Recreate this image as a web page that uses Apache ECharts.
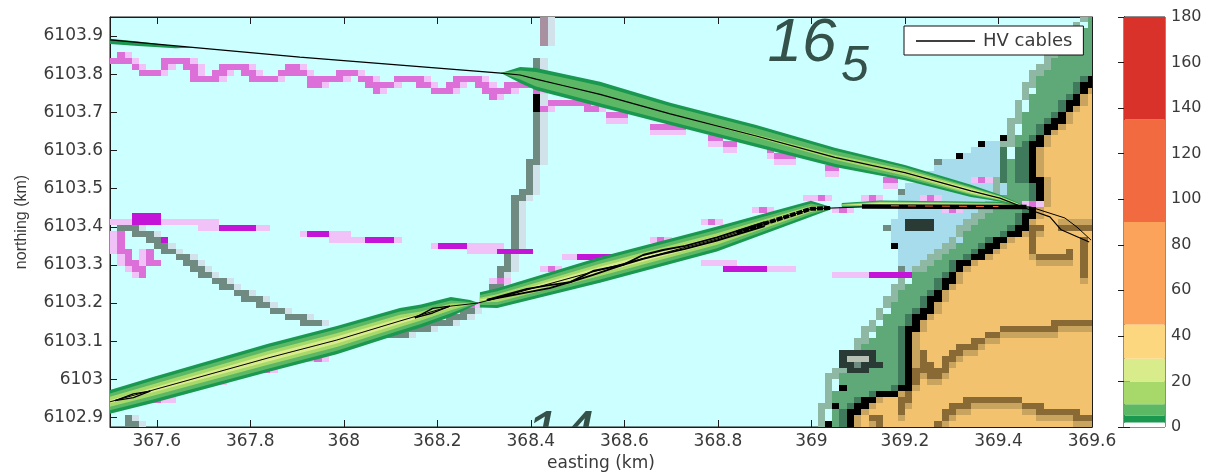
<!DOCTYPE html>
<html><head><meta charset="utf-8">
<style>html,body{margin:0;padding:0;background:#fff}#main{width:1214px;height:472px;filter:blur(0.35px)}</style>
<script src="https://cdn.jsdelivr.net/npm/echarts@6/dist/echarts.min.js"></script>
</head><body><div id="main"></div>
<script>
// ---------- axes ----------
const xTicks=[367.6,367.8,368,368.2,368.4,368.6,368.8,369,369.2,369.4,369.6];
const yTicks=[6102.9,6103,6103.1,6103.2,6103.3,6103.4,6103.5,6103.6,6103.7,6103.8,6103.9];
const barTicks=[0,20,40,60,80,100,120,140,160,180];
const barLevels=[0,2,5,10,20,30,45,90,135,180];
const barColors=['#ffffff','#1a9850','#5cb865','#a6d96a','#d9ec8b','#fdd780','#fba35a','#f26a40','#d8322a'];
// ---------- base map (km) ----------
const landEdge=[[369.083,6102.875],[369.083,6102.912],[369.117,6102.946],[369.192,6102.972],[369.209,6102.990],[369.209,6103.122],[369.217,6103.137],[369.267,6103.216],[369.318,6103.295],[369.384,6103.347],[369.450,6103.399],[369.468,6103.436],[369.489,6103.470],[369.489,6103.504],[369.468,6103.557],[369.472,6103.609],[369.502,6103.646],[369.551,6103.714],[369.594,6103.777],[369.600,6103.793]];
const greenEdge=[[369.033,6102.875],[369.051,6102.964],[369.061,6103.011],[369.083,6103.032],[369.134,6103.122],[369.192,6103.226],[369.217,6103.268],[369.284,6103.321],[369.376,6103.436],[369.403,6103.457],[369.418,6103.515],[369.431,6103.601],[369.455,6103.698],[369.485,6103.785],[369.527,6103.845],[369.594,6103.942],[369.600,6103.950]];
const mapCorner=[[369.600,6102.875]];
const shallowEdge=[[369.262,6103.567],[369.314,6103.588],[369.356,6103.614],[369.391,6103.628],[369.421,6103.601],[369.414,6103.457],[369.369,6103.426],[369.326,6103.365],[369.256,6103.295],[369.220,6103.274],[369.194,6103.274],[369.185,6103.339],[369.168,6103.365],[369.168,6103.405],[369.190,6103.457],[369.190,6103.502],[369.254,6103.536]];
const contour1=[[369.267,6102.875],[369.284,6102.899],[369.318,6102.933],[369.344,6102.946],[369.436,6102.946],[369.468,6102.927],[369.534,6102.912],[369.600,6102.901]];
const contour2=[[369.267,6103.006],[369.292,6103.051],[369.326,6103.085],[369.410,6103.129],[369.510,6103.135],[369.519,6103.148],[369.600,6103.148]];
const contour3=[[369.485,6103.399],[369.472,6103.384],[369.472,6103.339],[369.485,6103.321],[369.542,6103.321],[369.551,6103.339]];
const contour4=[[369.530,6103.418],[369.600,6103.418]];
const contour5=[[369.585,6103.365],[369.585,6103.268]];
const contour6=[[369.234,6103.077],[369.234,6103.030],[369.215,6102.980],[369.192,6102.920]];
const contour7=[[369.258,6103.040],[369.258,6103.000]];
const contour8=[[369.134,6102.901],[369.149,6102.888]];
const coastDark=[[369.450,6103.523],[369.435,6103.601]];
const coastKnot=[[369.072,6103.072],[369.125,6103.072],[369.147,6103.036],[369.083,6103.024],[369.072,6103.051]];
const knotCore=[[369.087,6103.050],[369.110,6103.050]];
const blackBlob=[[369.209,6103.420],[369.258,6103.420],[369.258,6103.405],[369.209,6103.405]];
const blackDots=[[369.316,6103.588],[369.363,6103.614],[369.410,6103.628],[369.174,6103.347],[369.072,6102.972],[369.055,6102.927],[369.040,6102.885]];
const grayDots=[[369.267,6103.567],[369.196,6103.491],[369.162,6103.397],[369.192,6103.295]];
// ---------- chart lines (km) ----------
const mastUpper=[[368.435,6103.950],[368.435,6103.882]];
const mastLine=[[368.420,6103.837],[368.420,6103.680],[368.407,6103.672],[368.407,6103.575],[368.390,6103.557],[368.390,6103.489],[368.373,6103.470],[368.373,6103.410],[368.360,6103.392],[368.360,6103.339],[368.343,6103.331],[368.343,6103.295],[368.328,6103.287],[368.328,6103.242],[368.313,6103.234]];
const mastBlack=[[368.420,6103.750],[368.420,6103.710]];
const diagLine=[[367.526,6103.400],[367.568,6103.384],[367.609,6103.352],[367.658,6103.313],[367.714,6103.268],[367.789,6103.221],[367.861,6103.176],[367.911,6103.155],[367.951,6103.142]];
const diagLower=[[368.088,6103.111],[368.142,6103.129],[368.184,6103.142],[368.238,6103.163],[368.270,6103.182]];
const diagFoot=[[367.538,6102.901],[367.547,6102.875]];
const waveLine=[[367.500,6103.832],[367.521,6103.843],[367.543,6103.829],[367.568,6103.803],[367.601,6103.806],[367.624,6103.829],[367.658,6103.832],[367.690,6103.790],[367.718,6103.790],[367.757,6103.819],[367.780,6103.819],[367.821,6103.780],[367.853,6103.790],[367.896,6103.819],[367.936,6103.777],[367.977,6103.790],[368.018,6103.806],[368.075,6103.764],[368.125,6103.790],[368.157,6103.790],[368.189,6103.761],[368.223,6103.764],[368.264,6103.790],[368.287,6103.780],[368.321,6103.745],[368.353,6103.764],[368.381,6103.777],[368.411,6103.764]];
const waveTail=[[368.430,6103.714],[368.467,6103.732],[368.501,6103.732],[368.541,6103.706]];
const waveBits=[[368.574,6103.688,368.601,6103.693],[368.666,6103.667,368.730,6103.659],[368.790,6103.633,368.833,6103.614],[368.916,6103.593,368.959,6103.588],[369.029,6103.557,369.051,6103.557],[369.157,6103.523,369.179,6103.517]];
const paleRuns=[[367.641,367.731,6103.410],[367.690,367.838,6103.397],[367.919,368.000,6103.381],[367.977,368.116,6103.368],[368.197,368.336,6103.352],[368.270,368.336,6103.339],[368.475,368.591,6103.323],[368.770,368.826,6103.305],[368.890,368.959,6103.281],[369.051,369.125,6103.273],[367.500,367.628,6103.418]];
const magentaRuns=[[367.740,367.804,6103.397],[367.932,367.960,6103.381],[368.050,368.107,6103.368],[368.210,368.259,6103.352],[368.336,368.398,6103.336],[368.505,368.574,6103.323],[368.815,368.890,6103.292],[369.125,369.209,6103.266],[367.560,367.596,6103.423],[367.560,367.596,6103.407],[367.611,367.619,6103.371]];
const fanLines=[[[367.519,6103.365],[367.538,6103.321],[367.568,6103.279]],[[367.579,6103.339],[367.596,6103.305]],[[367.522,6103.385],[367.526,6103.355]]];
const pinkBits=[[368.328,6103.253],[368.279,6103.190],[367.943,6103.059],[367.838,6103.030],[367.731,6102.988],[367.609,6102.951],[368.443,6103.294],[368.674,6103.371],[368.790,6103.410],[368.899,6103.444],[369.008,6103.473],[369.020,6103.478],[369.070,6103.439],[369.134,6103.478],[369.252,6103.478],[369.309,6103.439],[369.367,6103.515],[369.468,6103.465]];
// ---------- soundings ----------
const soundingText=['16','5','14'];
const soundingEast=[368.980,369.093,368.462];
const soundingNorth=[6103.879,6103.819,6102.852];
const soundingSize=[62,50,62];
// ---------- noise plumes: centre lines and half widths per level (km) ----------
const topEast=[368.336,368.377,368.411,368.473,368.548,368.698,368.882,369.050,369.200,369.341,369.403,369.459];
const topNorth=[6103.803,6103.798,6103.787,6103.769,6103.747,6103.696,6103.638,6103.582,6103.542,6103.494,6103.475,6103.452];
const topH2=[0,.021,.029,.031,.033,.029,.029,.025,.020,.016,.009,.001];
const topH5=[0,.012,.019,.021,.023,.020,.020,.017,.014,.011,.006,0];
const topH10=[0,0,0,0,0,0,.003,.006,.008,.008,.005,0];
const topH20=[0,0,0,0,0,0,0,0,.003,.005,.003,0];
const seg1East=[367.5,367.592,367.838,367.985,368.120,368.165,368.229,368.270,368.287];
const seg1North=[6102.941,6102.972,6103.056,6103.103,6103.153,6103.166,6103.190,6103.198,6103.200];
const seg1H2=[.031,.034,.037,.037,.034,.030,.026,.010,.001];
const seg1H5=[.022,.025,.028,.028,.025,.021,.017,.005,0];
const seg1H10=[.013,.015,.018,.018,.016,.012,.009,.002,0];
const seg1H20=[.004,.006,.009,.009,.007,.004,.002,0,0];
const seg2East=[368.291,368.328,368.548,368.798,368.999,369.042];
const seg2North=[6103.208,6103.213,6103.287,6103.368,6103.447,6103.449];
const seg2H2=[.020,.026,.034,.033,.021,.003];
const seg2H5=[.013,.018,.025,.024,.014,.001];
const seg2H10=[.006,.010,.016,.015,.008,0];
const seg2H20=[.001,.004,.008,.008,.003,0];
const seg3East=[369.065,369.147,369.403,369.467];
const seg3North=[6103.457,6103.460,6103.457,6103.452];
const seg3H2=[.005,.009,.008,0];
const seg3H5=[.003,.007,.006,0];
const seg3H10=[.001,.005,.004,0];
const seg3H20=[0,.002,.002,0];
const nwEast=[367.5,367.560,367.640,367.680];
const nwNorth=[6103.886,6103.880,6103.871,6103.870];
const nwH2=[.007,.006,.003,0];
// ---------- HV cables (km) ----------
const cableTop=[[367.5,6103.890],[367.906,6103.845],[368.336,6103.803],[368.377,6103.798],[368.411,6103.787],[368.473,6103.769],[368.548,6103.747],[368.698,6103.696],[368.882,6103.638],[369.050,6103.582],[369.200,6103.542],[369.341,6103.494],[369.403,6103.475],[369.468,6103.444],[369.510,6103.426],[369.534,6103.392],[369.594,6103.360]];
const cableBranch=[[369.468,6103.452],[369.542,6103.423],[369.568,6103.399],[369.598,6103.365]];
const cableBottom=[[367.5,6102.941],[367.592,6102.972],[367.838,6103.056],[367.985,6103.103],[368.120,6103.153],[368.229,6103.192],[368.287,6103.200],[368.328,6103.213],[368.548,6103.287],[368.798,6103.368],[368.999,6103.447],[369.042,6103.449],[369.108,6103.452],[369.468,6103.452]];
const knotA1=[[367.511,6102.944],[367.550,6102.962],[367.586,6102.969]];
const knotA2=[[367.511,6102.944],[367.550,6102.952],[367.586,6102.969]];
const knotB1=[[368.152,6103.161],[368.190,6103.186],[368.227,6103.192]];
const knotB2=[[368.152,6103.161],[368.190,6103.174],[368.227,6103.192]];
const doubleUpper=[[368.306,6103.208],[368.392,6103.237],[368.440,6103.247],[368.484,6103.255],[368.533,6103.284],[368.597,6103.300],[368.640,6103.326],[368.683,6103.339],[368.730,6103.350],[368.798,6103.372],[368.900,6103.412]];
const doubleLower=[[368.306,6103.208],[368.392,6103.228],[368.440,6103.239],[368.484,6103.255],[368.533,6103.274],[368.597,6103.300],[368.640,6103.316],[368.683,6103.329],[368.730,6103.342],[368.798,6103.364],[368.900,6103.402]];
const denseEnd=[[368.840,6103.385],[368.999,6103.447],[369.040,6103.449]];
const cableHeavy=[[369.108,6103.453],[369.460,6103.452]];
const cableHot=[[369.170,6103.455],[369.400,6103.453]];

// ---------- raster ----------
const E0=367.5,N0=6102.875,CELL=0.0156;
const palette=['#a6dcec','#5fa877','#f3c26e','#000000','#8a6a34','#c9a45f','#3f7a5c','#6f8a80','#d2e2ea','#a890a0','#dc6fd8','#f0c2f8','#c414d8','#2a3a34','#8fb8a4','#b7c2b4'];
const [SHALLOW,COAST,LAND,BLACK,BROWN,BROWN2,DARKG,GRAY,GRAYF,MAUVE,PINK,PALE,MAG,DARK,COASTF,CORE]=palette.map((_,i)=>i);
const cells=new Map();
const put=(c,r,k)=>{if(c>=0&&r>=0&&c<136&&r<70)cells.set(c+'_'+r,k);};
function fill(poly,k){
  const xs=poly.map(p=>p[0]),ys=poly.map(p=>p[1]);
  const c0=Math.floor((Math.min(...xs)-E0)/CELL),c1=Math.ceil((Math.max(...xs)-E0)/CELL);
  const r0=Math.floor((Math.min(...ys)-N0)/CELL),r1=Math.ceil((Math.max(...ys)-N0)/CELL);
  for(let r=r0;r<=r1;r++)for(let c=c0;c<=c1;c++){
    const x=E0+(c+.5)*CELL,y=N0+(r+.5)*CELL;let inside=false;
    for(let i=0,j=poly.length-1;i<poly.length;j=i++){
      const a=poly[i],b=poly[j];
      if((a[1]>y)!==(b[1]>y)&&x<(b[0]-a[0])*(y-a[1])/(b[1]-a[1])+a[0])inside=!inside;
    }
    if(inside)put(c,r,k);
  }
}
function stroke(path,k,dc=0,dr=0){
  for(let i=0;i<Math.max(path.length-1,1);i++){
    const a=path[i],b=path[Math.min(i+1,path.length-1)];
    const n=Math.max(1,Math.ceil(Math.max(Math.abs(b[0]-a[0]),Math.abs(b[1]-a[1]))/(CELL/3)));
    for(let s=0;s<=n;s++){
      const x=a[0]+(b[0]-a[0])*s/n,y=a[1]+(b[1]-a[1])*s/n;
      put(Math.floor((x-E0)/CELL)+dc,Math.floor((y-N0)/CELL)+dr,k);
    }
  }
}
const run=(r,k)=>stroke([[r[0],r[2]],[r[1],r[2]]],k);
fill(shallowEdge,SHALLOW);
stroke(greenEdge,COASTF,-1,0);
fill(greenEdge.concat(mapCorner),COAST);
stroke(coastDark,DARKG);stroke(coastDark,DARKG,-2,0);
stroke(landEdge,DARKG,-1,0);
fill(landEdge.concat(mapCorner),LAND);
stroke(landEdge,BROWN2,1,0);
[contour1,contour2,contour3,contour5,contour6,contour7,contour8].forEach(p=>{stroke(p,BROWN2,0,-1);stroke(p,BROWN);});
stroke(contour4,BROWN2);stroke(contour4,BROWN,0,-1);
stroke(landEdge,BLACK);
fill(coastKnot,GRAY);stroke(coastKnot,DARK);stroke(knotCore,CORE);
fill(blackBlob,BLACK);stroke(blackBlob,DARK);
blackDots.forEach(p=>stroke([p],BLACK));
grayDots.forEach(p=>stroke([p],GRAY));
stroke(mastUpper,GRAYF,1,0);stroke(mastUpper,MAUVE);
[mastLine,diagLine,diagLower,diagFoot].forEach(p=>{stroke(p,GRAYF,1,0);stroke(p,GRAY);});
stroke(mastBlack,BLACK);
paleRuns.forEach(r=>run(r,PALE));
magentaRuns.forEach(r=>run(r,MAG));
[waveLine,waveTail].forEach(p=>{stroke(p,PALE,1,0);stroke(p,PINK);});
waveBits.forEach(b=>{const p=[[b[0],b[1]],[b[2],b[3]]];stroke(p,PALE,0,-1);stroke(p,PINK);});
fanLines.forEach(p=>{stroke(p,PALE,-1,0);stroke(p,PINK);});
pinkBits.forEach(p=>{stroke([[p[0]-.016,p[1]],[p[0]+.016,p[1]]],PALE);stroke([p],PINK);});
const rasterData=[...cells.entries()].map(([key,k])=>{const [c,r]=key.split('_').map(Number);
  return [E0+c*CELL,N0+r*CELL,E0+(c+1)*CELL,N0+(r+1)*CELL,k];});

const plumes=[
 {east:nwEast,north:nwNorth,h:[nwH2]},
 {east:topEast,north:topNorth,h:[topH2,topH5,topH10,topH20]},
 {east:seg1East,north:seg1North,h:[seg1H2,seg1H5,seg1H10,seg1H20]},
 {east:seg2East,north:seg2North,h:[seg2H2,seg2H5,seg2H10,seg2H20]},
 {east:seg3East,north:seg3North,h:[seg3H2,seg3H5,seg3H10,seg3H20]}
];
const plumeRows=[];
plumes.forEach((p,i)=>p.h.forEach((_,b)=>plumeRows.push([i,b])));

const axisLine={show:true,lineStyle:{color:'#1c1c1c',width:1}};
const textCol='#3a3a3a', tickFont={fontFamily:'DejaVu Sans',fontSize:17,color:textCol};
const tick={show:true,inside:true,length:7,lineStyle:{color:'#1c1c1c',width:1}};
const MIN_N=6102.875,MAX_N=6103.95,MIN_E=367.5,MAX_E=369.6;
const fmt=v=>String(+(+v).toFixed(1));
const cableSeries=(data,lineStyle,z=6)=>({type:'line',name:'HV cables',xAxisIndex:0,yAxisIndex:0,data,symbol:'none',
  itemStyle:{color:'#000'},lineStyle:{color:'#000',width:1,...lineStyle},z,silent:true});

const option={
 animation:false,backgroundColor:'#fff',
 grid:[
  {left:110,top:17,width:982,height:410,outerBoundsMode:'none',show:true,backgroundColor:'#ccffff',borderColor:'#1c1c1c',borderWidth:1},
  {left:1124,top:17,width:41,height:410,outerBoundsMode:'none',show:true,backgroundColor:'#fff',borderColor:'#1c1c1c',borderWidth:1}
 ],
 xAxis:[
  {type:'value',gridIndex:0,min:MIN_E,max:MAX_E,name:'easting (km)',nameLocation:'middle',nameGap:27,
   nameTextStyle:{fontFamily:'DejaVu Sans',fontSize:17,color:textCol},
   axisLine,axisTick:{...tick,customValues:xTicks},splitLine:{show:false},
   axisLabel:{...tickFont,customValues:xTicks,formatter:fmt,margin:6,showMinLabel:true,showMaxLabel:true}},
  {type:'value',gridIndex:0,position:'top',min:MIN_E,max:MAX_E,axisLine,axisTick:{...tick,customValues:xTicks},axisLabel:{show:false},splitLine:{show:false}},
  {type:'value',gridIndex:1,min:0,max:1,show:false}
 ],
 yAxis:[
  {type:'value',gridIndex:0,min:MIN_N,max:MAX_N,name:'northing (km)',nameLocation:'middle',nameGap:80,
   nameTextStyle:{fontFamily:'Liberation Sans',fontSize:16,color:textCol},
   axisLine,axisTick:{...tick,customValues:yTicks},splitLine:{show:false},
   axisLabel:{...tickFont,customValues:yTicks,formatter:fmt,margin:7}},
  {type:'value',gridIndex:0,position:'right',min:MIN_N,max:MAX_N,axisLine,axisTick:{...tick,customValues:yTicks},axisLabel:{show:false},splitLine:{show:false}},
  {type:'value',gridIndex:1,position:'right',min:0,max:180,axisLine,axisTick:{...tick,customValues:barTicks,length:6},
   axisLabel:{fontFamily:'DejaVu Sans',fontSize:16,color:textCol,customValues:barTicks,margin:6},splitLine:{show:false}},
  {type:'value',gridIndex:1,position:'left',min:0,max:180,axisLine,axisTick:{...tick,customValues:barTicks,length:6},axisLabel:{show:false},splitLine:{show:false}}
 ],
 legend:{data:[{name:'HV cables',icon:'rect'}],left:904,top:26,orient:'horizontal',padding:[6,11,5,12],itemWidth:59,itemHeight:1.5,itemGap:0,
  itemStyle:{color:'#000',borderWidth:0},
  backgroundColor:'#fff',borderColor:'#111',borderWidth:1,borderRadius:0,
  textStyle:{fontFamily:'DejaVu Sans',fontSize:18,color:textCol,padding:[0,0,0,3]},selectedMode:false,z:20},
 series:[
  cableSeries(cableTop,{width:1.2}),
  {type:'custom',xAxisIndex:0,yAxisIndex:0,data:rasterData,z:1,silent:true,clip:true,progressive:0,
   renderItem:(p,api)=>{
    const a=api.coord([api.value(0),api.value(1)]),b=api.coord([api.value(2),api.value(3)]);
    const x=Math.round(a[0]),x2=Math.round(b[0]),y=Math.round(b[1]),y2=Math.round(a[1]);
    return {type:'rect',shape:{x,y,width:x2-x,height:y2-y},style:{fill:palette[api.value(4)]}};
   }},
  {type:'custom',xAxisIndex:0,yAxisIndex:0,data:soundingText.map((t,i)=>[soundingEast[i],soundingNorth[i],i]),z:2,silent:true,clip:true,
   renderItem:(p,api)=>{
    const c=api.coord([api.value(0),api.value(1)]),i=api.value(2);
    return {type:'text',style:{x:c[0],y:c[1],text:soundingText[i],fill:'#35524a',align:'center',verticalAlign:'middle',
      font:'italic '+soundingSize[i]+'px "Liberation Sans"'}};
   }},
  {type:'custom',xAxisIndex:0,yAxisIndex:0,data:plumeRows,z:3,silent:true,clip:true,
   renderItem:(p,api)=>{
    const pl=plumes[api.value(0)],b=api.value(1),h=pl.h[b];
    const up=pl.east.map((e,i)=>api.coord([e,pl.north[i]+h[i]]));
    const lo=pl.east.map((e,i)=>api.coord([e,pl.north[i]-h[i]])).reverse();
    return {type:'polygon',shape:{points:up.concat(lo)},style:{fill:barColors[b+1]}};
   }},
  cableSeries(cableBranch),
  cableSeries(cableBottom),
  ...[knotA1,knotA2,knotB1,knotB2].map(d=>cableSeries(d,{width:1.4})),
  ...[doubleUpper,doubleLower].map(d=>cableSeries(d,{width:1.9})),
  cableSeries(denseEnd,{width:4,type:[6,1]}),
  cableSeries(cableHeavy,{width:4.5}),
  cableSeries(cableHot,{color:'#f46d43',type:[8,9]},7),
  {type:'custom',xAxisIndex:2,yAxisIndex:2,z:3,silent:true,
   data:barColors.map((c,i)=>[barLevels[i],barLevels[i+1],i]),
   renderItem:(p,api)=>{
    const a=api.coord([0,api.value(0)]),b=api.coord([1,api.value(1)]);
    return {type:'rect',shape:{x:a[0],y:b[1],width:b[0]-a[0],height:a[1]-b[1]},style:{fill:barColors[api.value(2)]}};
   }}
 ]
};
echarts.init(document.getElementById('main'),null,{renderer:'canvas'}).setOption(option);
</script></body></html>
